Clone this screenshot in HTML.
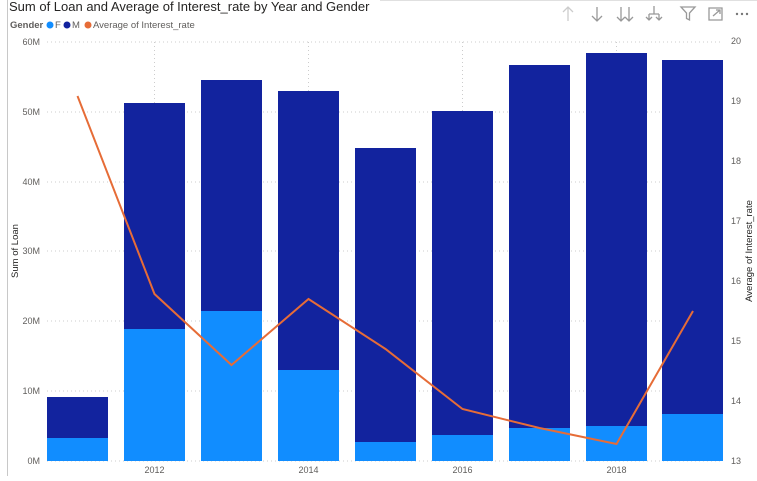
<!DOCTYPE html><html><head><style>body{margin:0;background:#fff;}svg{font-family:"Liberation Sans",sans-serif;}</style></head><body>
<svg width="757" height="476" xmlns="http://www.w3.org/2000/svg">
<rect width="757" height="476" fill="#fff"/>
<line x1="7.5" y1="0" x2="7.5" y2="476" stroke="#c8c8c8"/>
<line x1="380" y1="0.5" x2="757" y2="0.5" stroke="#e0e0e0"/>
<text x="9" y="11" font-size="13" fill="#252423">Sum of Loan and Average of Interest_rate by Year and Gender</text>
<text x="10" y="28" font-size="9.5" fill="#605e5c" font-weight="bold">Gender</text>
<circle cx="50" cy="25" r="3.5" fill="#118dff"/><text x="55" y="28" font-size="9.5" fill="#605e5c">F</text>
<circle cx="67" cy="25" r="3.5" fill="#12239e"/><text x="72" y="28" font-size="9.5" fill="#605e5c">M</text>
<circle cx="88" cy="25" r="3.5" fill="#e66c37"/><text x="93" y="28" font-size="9.5" fill="#605e5c">Average of Interest_rate</text>
<g fill="none" stroke-width="1.3" stroke="#999">
<path d="M568 7v14M563 12l5-5 5 5" stroke="#ccc"/>
<path d="M597 7v14M592 16l5 5 5-5"/>
<path d="M621 7v14M617 17l4 4 4-4M629 7v14M625 17l4 4 4-4"/>
<path d="M654 6v8M649 14h10M649 14v6M659 14v6M646 17l3 3 3-3M656 17l3 3 3-3"/>
<path d="M681 7h14l-5.5 6v7l-3-1.5v-5.5z"/>
<path d="M709 8h13v12h-13zM713 16l7-6M716 10h4v4"/>
</g>
<g fill="#777"><circle cx="737" cy="14" r="1.2"/><circle cx="742" cy="14" r="1.2"/><circle cx="747" cy="14" r="1.2"/></g>
<g stroke="#ccc" stroke-dasharray="1,3">
<line x1="47" y1="42" x2="723" y2="42"/><line x1="47" y1="112" x2="723" y2="112"/><line x1="47" y1="182" x2="723" y2="182"/><line x1="47" y1="251" x2="723" y2="251"/><line x1="47" y1="321" x2="723" y2="321"/><line x1="47" y1="391" x2="723" y2="391"/><line x1="47" y1="461" x2="723" y2="461"/>
<line x1="154.5" y1="42" x2="154.5" y2="461"/><line x1="308.5" y1="42" x2="308.5" y2="461"/><line x1="462.5" y1="42" x2="462.5" y2="461"/><line x1="616.5" y1="42" x2="616.5" y2="461"/>
</g>
<g font-size="9" fill="#605e5c" text-anchor="end">
<text x="40" y="45">60M</text><text x="40" y="115">50M</text><text x="40" y="185">40M</text><text x="40" y="254">30M</text><text x="40" y="324">20M</text><text x="40" y="394">10M</text><text x="40" y="464">0M</text>
</g>
<g font-size="9" fill="#605e5c">
<text x="731" y="44">20</text><text x="731" y="104">19</text><text x="731" y="164">18</text><text x="731" y="224">17</text><text x="731" y="284">16</text><text x="731" y="344">15</text><text x="731" y="404">14</text><text x="731" y="464">13</text>
</g>
<g font-size="9" fill="#605e5c" text-anchor="middle">
<text x="154.5" y="473">2012</text><text x="308.5" y="473">2014</text><text x="462.5" y="473">2016</text><text x="616.5" y="473">2018</text>
</g>
<text transform="translate(18,251) rotate(-90)" font-size="9.5" fill="#252423" text-anchor="middle">Sum of Loan</text>
<text transform="translate(752,251) rotate(-90)" font-size="9.5" fill="#252423" text-anchor="middle">Average of Interest_rate</text>
<g fill="#12239e">
<rect x="47" y="397" width="61" height="64"/><rect x="124" y="103" width="61" height="358"/><rect x="201" y="80" width="61" height="381"/><rect x="278" y="91" width="61" height="370"/><rect x="355" y="148" width="61" height="313"/><rect x="432" y="111" width="61" height="350"/><rect x="509" y="65" width="61" height="396"/><rect x="586" y="53" width="61" height="408"/><rect x="662" y="60" width="61" height="401"/>
</g>
<g fill="#118dff">
<rect x="47" y="438" width="61" height="23"/><rect x="124" y="329" width="61" height="132"/><rect x="201" y="311" width="61" height="150"/><rect x="278" y="370" width="61" height="91"/><rect x="355" y="442" width="61" height="19"/><rect x="432" y="435" width="61" height="26"/><rect x="509" y="428" width="61" height="33"/><rect x="586" y="426" width="61" height="35"/><rect x="662" y="414" width="61" height="47"/>
</g>
<polyline points="77.5,96 154.5,294 231.5,365 308.5,299 385.5,349 462.5,409 539.5,428 616.5,444 693,311" fill="none" stroke="#e66c37" stroke-width="2"/>
</svg>
</body></html>
